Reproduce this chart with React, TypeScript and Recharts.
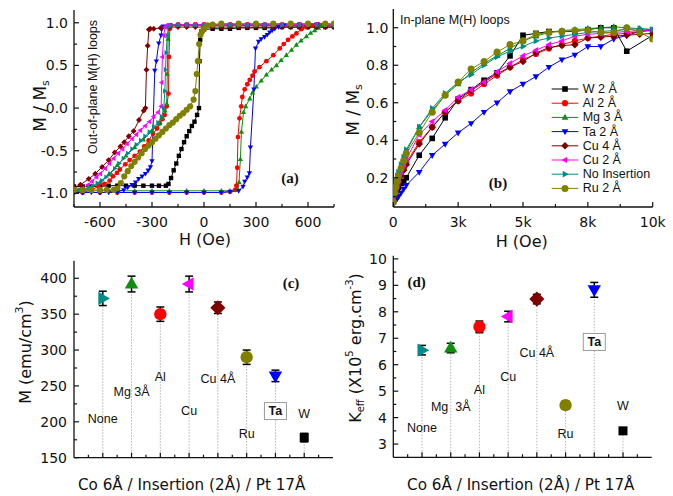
// App.tsx
// Four-panel figure: out-of-plane / in-plane M(H) loops + M and Keff per insertion layer.
import React from "react";
import { ComposedChart, Line, Scatter, XAxis, YAxis, ErrorBar, ReferenceLine } from "recharts";

const SANS = "'Liberation Sans', Arial, sans-serif";
const WIDE = "'DejaVu Sans', sans-serif";
const SERIF = "'Liberation Serif', 'Times New Roman', serif";
const INK = "#111111";

// ---- samples, in legend order ----
const SAMPLE_NAMES = ["W 2 Å", "Al 2 Å", "Mg 3 Å", "Ta 2 Å", "Cu 4 Å", "Cu 2 Å", "No Insertion", "Ru 2 Å"];
const SAMPLE_COLORS = ["#000000", "#ff0000", "#0f8f0f", "#0000ff", "#800000", "#ff00ff", "#008b8b", "#808000"];
const SAMPLE_SHAPES = ["square", "circle", "up", "down", "diamond", "left", "right", "circle"];

// ---- (a) out-of-plane loops: H (Oe) and M/Ms ----
const TOP_H = [750, 700, 650, 600, 550, 500, 450, 400, 350, 300, 250, 200, 150, 100, 50, 0, -50, -100, -150];

const OOP_W_H = [750, 700, 650, 600, 550, 500, 450, 400, 350, 300, 250, 200, 150, 100, 50, 0, -15, -22, -26, -29, -40, -55, -70, -85, -100, -115, -130, -145, -160, -175, -190, -205, -220, -260, -300, -350, -400, -450, -500, -550, -600, -650, -700, -750];
const OOP_W_M = [0.95, 0.95, 0.95, 0.95, 0.95, 0.95, 0.95, 0.94, 0.94, 0.94, 0.94, 0.94, 0.93, 0.93, 0.93, 0.92, 0.9, 0.8, 0.55, 0.0, -0.08, -0.16, -0.21, -0.27, -0.33, -0.4, -0.48, -0.56, -0.65, -0.73, -0.82, -0.89, -0.91, -0.91, -0.91, -0.91, -0.91, -0.91, -0.91, -0.91, -0.92, -0.92, -0.92, -0.92];

const OOP_AL_H = [...TOP_H, -190, -197, -202, -205, -215, -227, -240, -255, -271, -294, -319, -345, -370, -400, -429, -454, -486, -502, -525, -544, -575, -610, -650, -700, -750,
  -700, -600, -500, -400, -300, -200, -100, 0, 100, 150, 180, 187, 192, 196, 205, 215, 221, 235, 250, 264, 280, 292, 320, 360, 400, 437, 460, 485, 510, 533, 562, 590, 620, 660, 700, 750];
const OOP_AL_M = [0.98, 0.98, 0.98, 0.98, 0.98, 0.98, 0.98, 0.98, 0.98, 0.98, 0.98, 0.98, 0.98, 0.98, 0.98, 0.98, 0.98, 0.98, 0.98, 0.97, 0.93, 0.6, 0.17, 0.02, -0.08, -0.13, -0.18, -0.24, -0.3, -0.38, -0.45, -0.51, -0.56, -0.61, -0.66, -0.72, -0.76, -0.8, -0.85, -0.89, -0.92, -0.96, -0.99, -0.99,
  -0.99, -0.99, -0.99, -0.99, -0.99, -0.99, -0.99, -0.99, -0.99, -0.98, -0.96, -0.91, -0.7, -0.34, -0.12, 0.02, 0.13, 0.22, 0.28, 0.33, 0.38, 0.43, 0.48, 0.55, 0.62, 0.7, 0.75, 0.8, 0.84, 0.875, 0.925, 0.95, 0.97, 0.98, 0.98, 0.98];

const OOP_MG_H = [...TOP_H, -200, -207, -212, -215, -225, -240, -260, -300, -350, -400, -450, -500, -550, -600, -650, -700, -750,
  -700, -600, -500, -400, -300, -200, -100, 0, 100, 150, 195, 202, 210, 216, 228, 240, 264, 280, 302, 330, 360, 390, 418, 445, 475, 505, 533, 560, 591, 615, 639, 660, 677, 700, 750];
const OOP_MG_M = [0.98, 0.98, 0.98, 0.98, 0.98, 0.98, 0.98, 0.98, 0.98, 0.98, 0.98, 0.98, 0.98, 0.98, 0.98, 0.98, 0.98, 0.98, 0.98, 0.96, 0.81, 0.4, 0.05, -0.03, -0.12, -0.18, -0.27, -0.37, -0.46, -0.56, -0.67, -0.78, -0.87, -0.93, -0.96, -0.98,
  -0.97, -0.97, -0.97, -0.97, -0.97, -0.97, -0.97, -0.97, -0.97, -0.97, -0.95, -0.87, -0.6, -0.28, -0.05, 0.02, 0.11, 0.18, 0.25, 0.32, 0.39, 0.45, 0.5, 0.56, 0.62, 0.68, 0.74, 0.79, 0.84, 0.88, 0.91, 0.94, 0.97, 0.98, 0.98];

const OOP_TA_H = [...TOP_H, -200, -235, -242, -248, -261, -275, -284, -300, -309, -322, -338, -357, -377, -395, -415, -440, -463, -500, -550, -600, -650, -700, -750,
  -700, -600, -500, -400, -300, -200, -100, 0, 100, 150, 200, 225, 235, 250, 262, 268, 288, 297, 315, 330, 350, 365, 379, 393, 408, 430, 460, 500, 550, 600, 650, 700, 750];
const OOP_TA_M = [0.97, 0.97, 0.97, 0.97, 0.97, 0.97, 0.97, 0.97, 0.97, 0.97, 0.97, 0.97, 0.97, 0.97, 0.97, 0.97, 0.97, 0.97, 0.97, 0.97, 0.96, 0.93, 0.855, 0.76, 0.55, 0.44, -0.62, -0.69, -0.73, -0.77, -0.8, -0.83, -0.87, -0.9, -0.93, -0.96, -0.98, -0.99, -0.99, -0.99, -0.99, -0.99,
  -0.99, -0.99, -0.99, -0.99, -0.99, -0.99, -0.99, -0.99, -0.99, -0.98, -0.97, -0.92, -0.86, -0.81, -0.76, -0.46, 0.22, 0.7, 0.78, 0.81, 0.835, 0.86, 0.89, 0.91, 0.93, 0.95, 0.97, 0.98, 0.98, 0.98, 0.98, 0.98, 0.98];

const OOP_CU4_H = [...TOP_H, -200, -250, -290, -310, -318, -325, -332, -338, -348, -375, -406, -434, -460, -482, -515, -550, -588, -627, -665, -713, -750];
const OOP_CU4_M = [0.95, 0.95, 0.95, 0.95, 0.95, 0.95, 0.95, 0.95, 0.95, 0.95, 0.95, 0.95, 0.95, 0.95, 0.95, 0.95, 0.95, 0.95, 0.95, 0.95, 0.94, 0.93, 0.93, 0.92, 0.73, 0.45, 0.0, -0.03, -0.14, -0.27, -0.33, -0.4, -0.45, -0.52, -0.61, -0.69, -0.77, -0.83, -0.9, -0.93];

const OOP_CU2_H = [...TOP_H, -200, -215, -225, -232, -240, -244, -247, -265, -290, -315, -340, -367, -390, -415, -444, -470, -495, -521, -545, -570, -598, -620, -646, -670, -700, -725, -750];
const OOP_CU2_M = [0.98, 0.98, 0.98, 0.98, 0.98, 0.98, 0.98, 0.98, 0.98, 0.98, 0.98, 0.98, 0.98, 0.98, 0.98, 0.98, 0.98, 0.98, 0.98, 0.97, 0.97, 0.95, 0.85, 0.6, 0.3, 0.02, -0.05, -0.1, -0.16, -0.21, -0.26, -0.31, -0.36, -0.42, -0.48, -0.53, -0.59, -0.65, -0.71, -0.77, -0.81, -0.86, -0.9, -0.94, -0.96, -0.97];

const OOP_NONE_H = [...TOP_H, -190, -205, -212, -218, -222, -226, -232, -245, -265, -290, -315, -340, -365, -390, -415, -440, -465, -490, -515, -540, -565, -590, -615, -640, -665, -690, -720, -750];
const OOP_NONE_M = [0.97, 0.97, 0.97, 0.97, 0.97, 0.97, 0.97, 0.97, 0.97, 0.97, 0.97, 0.97, 0.97, 0.97, 0.97, 0.97, 0.97, 0.97, 0.97, 0.97, 0.95, 0.85, 0.65, 0.45, 0.2, 0.0, -0.1, -0.17, -0.22, -0.28, -0.33, -0.38, -0.43, -0.48, -0.53, -0.59, -0.65, -0.71, -0.77, -0.81, -0.85, -0.88, -0.91, -0.93, -0.95, -0.96, -0.97];

const OOP_RU_H = [750, 700, 600, 500, 400, 300, 200, 100, 50, 20, 0, -10, -20, -28, -35, -42, -50, -60, -80, -100, -120, -140, -160, -180, -200, -220, -240, -260, -280, -300, -320, -340, -360, -380, -400, -420, -440, -460, -480, -500, -520, -560, -600, -650, -700, -750];
const OOP_RU_M = [0.99, 0.99, 0.99, 0.99, 0.99, 0.99, 0.99, 0.99, 0.98, 0.97, 0.93, 0.9, 0.86, 0.75, 0.55, 0.4, 0.2, 0.1, 0.02, -0.02, -0.06, -0.09, -0.13, -0.17, -0.2, -0.24, -0.28, -0.32, -0.36, -0.4, -0.44, -0.48, -0.53, -0.58, -0.63, -0.68, -0.74, -0.8, -0.88, -0.94, -0.96, -0.96, -0.96, -0.96, -0.96, -0.96];

// ---- (b) in-plane loops on a shared H grid ----
const IP_H = [0, 50, 100, 150, 200, 300, 400, 500, 1000, 1500, 2000, 2500, 3000, 3500, 4000, 4500, 5000, 5500, 6000, 6500, 7000, 7500, 8000, 8500, 9000, 9500, 10000];
const IP_W = [0.07, 0.1, 0.12, 0.14, 0.15, 0.17, 0.18, 0.2, 0.32, 0.41, 0.52, 0.62, 0.67, 0.72, 0.76, 0.85, 0.96, 0.97, 0.98, 0.98, 0.98, 0.99, 1.0, 1.0, 0.875, null, 0.96];
const IP_AL = [0.07, 0.11, 0.14, 0.16, 0.18, 0.22, 0.25, 0.28, 0.39, 0.47, 0.55, 0.61, 0.65, 0.7, 0.745, 0.79, 0.83, 0.86, 0.89, 0.91, 0.93, 0.945, 0.955, 0.965, 0.97, 0.98, 0.985];
const IP_MG = [0.09, 0.14, 0.17, 0.2, 0.22, 0.26, 0.3, 0.34, 0.47, 0.56, 0.64, 0.7, 0.76, 0.81, 0.85, 0.89, 0.93, 0.955, 0.975, 0.985, 0.99, 0.995, 1.0, 1.005, 1.0, 0.995, 0.99];
const IP_TA = [0.06, 0.07, 0.08, 0.09, 0.1, 0.12, 0.14, 0.16, 0.23, 0.32, 0.38, 0.44, 0.49, 0.55, 0.6, 0.66, 0.7, 0.74, 0.79, 0.83, 0.855, 0.9, 0.9, 0.94, 0.96, 0.98, 0.99];
const IP_CU4 = [0.07, 0.1, 0.13, 0.15, 0.17, 0.21, 0.24, 0.27, 0.38, 0.47, 0.55, 0.61, 0.665, 0.71, 0.755, 0.79, 0.82, 0.865, 0.895, 0.905, 0.91, 0.945, 0.95, 0.955, 0.96, 0.965, 0.97];
const IP_CU2 = [0.08, 0.12, 0.15, 0.17, 0.19, 0.23, 0.27, 0.3, 0.43, 0.5, 0.56, 0.63, 0.67, 0.71, 0.765, 0.81, 0.85, 0.88, 0.91, 0.93, 0.955, 0.965, 0.97, 0.975, 0.98, 0.985, 0.99];
const IP_NONE = [0.1, 0.15, 0.18, 0.21, 0.23, 0.27, 0.31, 0.35, 0.47, 0.57, 0.65, 0.71, 0.75, 0.8, 0.845, 0.875, 0.9, 0.93, 0.945, 0.955, 0.965, 0.975, 0.98, 0.985, 0.99, 0.995, 0.99];
const IP_RU = [0.07, 0.12, 0.15, 0.18, 0.21, 0.25, 0.29, 0.33, 0.44, 0.55, 0.64, 0.71, 0.78, 0.82, 0.87, 0.91, 0.93, 0.965, 0.975, 0.98, 0.985, 0.985, 0.975, 0.975, 1.0, 0.975, 0.94];
const IP_XTICKS = [0, 2500, 5000, 7500, 10000];
const IP_XTICK_LABELS = ["0", "3k", "5k", "8k", "10k"];

// ---- (c) and (d): one point per insertion layer ----
const CATEGORIES = ["None", "Mg 3Å", "Al", "Cu", "Cu 4Å", "Ru", "Ta", "W"];
const CAT_LABELS_D = ["None", "Mg  3Å", "Al", "Cu", "Cu 4Å", "Ru", "Ta", "W"];
const CAT_COLORS = ["#008b8b", "#0f8f0f", "#ff0000", "#ff00ff", "#800000", "#808000", "#0000ff", "#000000"];
const CAT_SHAPES = ["right", "up", "circle", "left", "diamond", "circle", "down", "square"];
const M_VALUES = [372, 392, 350, 392, 359, 290, 264, 178];
const M_ERRORS = [10, 11, 10, 11, 8, 10, 8, 6];
const M_LABEL_Y = [204, 241, 263, 215, 259, 183, 215, 211];
const K_VALUES = [6.55, 6.63, 7.43, 7.82, 8.48, 4.47, 8.83, 3.5];
const K_ERRORS = [0.18, 0.18, 0.22, 0.2, 0.18, 0.15, 0.28, 0.05];
const K_LABEL_Y = [3.6, 4.42, 5.05, 5.53, 6.46, 3.38, 6.86, 4.45];

const zip = (xs: number[], ys: (number | null)[]) => xs.map((x, i) => ({ x, y: ys[i] }));

const OOP_LOOPS = [
  zip(OOP_W_H, OOP_W_M), zip(OOP_AL_H, OOP_AL_M), zip(OOP_MG_H, OOP_MG_M), zip(OOP_TA_H, OOP_TA_M),
  zip(OOP_CU4_H, OOP_CU4_M), zip(OOP_CU2_H, OOP_CU2_M), zip(OOP_NONE_H, OOP_NONE_M), zip(OOP_RU_H, OOP_RU_M),
];
const IP_LOOPS = [IP_W, IP_AL, IP_MG, IP_TA, IP_CU4, IP_CU2, IP_NONE, IP_RU].map((m) => zip(IP_H, m));

function marker(shape: string, cx: number, cy: number, r: number, color: string, key?: any) {
  if (cx == null || cy == null || isNaN(cx) || isNaN(cy)) return <g key={key} />;
  switch (shape) {
    case "square":
      return <rect key={key} x={cx - r} y={cy - r} width={2 * r} height={2 * r} fill={color} />;
    case "circle":
      return <circle key={key} cx={cx} cy={cy} r={r * 1.1} fill={color} />;
    case "up":
      return <polygon key={key} fill={color} points={`${cx},${cy - r * 1.3} ${cx + r * 1.2},${cy + r * 0.8} ${cx - r * 1.2},${cy + r * 0.8}`} />;
    case "down":
      return <polygon key={key} fill={color} points={`${cx},${cy + r * 1.3} ${cx + r * 1.2},${cy - r * 0.8} ${cx - r * 1.2},${cy - r * 0.8}`} />;
    case "left":
      return <polygon key={key} fill={color} points={`${cx - r * 1.3},${cy} ${cx + r * 0.8},${cy - r * 1.2} ${cx + r * 0.8},${cy + r * 1.2}`} />;
    case "right":
      return <polygon key={key} fill={color} points={`${cx + r * 1.3},${cy} ${cx - r * 0.8},${cy - r * 1.2} ${cx - r * 0.8},${cy + r * 1.2}`} />;
    default:
      return <polygon key={key} fill={color} points={`${cx},${cy - r * 1.35} ${cx + r * 1.35},${cy} ${cx},${cy + r * 1.35} ${cx - r * 1.35},${cy}`} />;
  }
}

// inward Origin-style ticks (major 5px, minor 3px) drawn by a custom tick
function tickRenderer(side: string, majors: number[], fmt?: (v: number) => string, gap = 0) {
  return (p: any) => {
    const v = p.payload.value;
    const major = majors.some((m) => Math.abs(m - v) < 1e-6);
    const len = major ? 5 : 3;
    const x = p.x;
    const y = p.y;
    let l = [x, y, x, y - len];
    if (side === "top") l = [x, y, x, y + len];
    if (side === "left") l = [x, y, x + len, y];
    if (side === "right") l = [x, y, x - len, y];
    const label = fmt && major ? fmt(v) : null;
    return (
      <g>
        <line x1={l[0]} y1={l[1]} x2={l[2]} y2={l[3]} stroke={INK} strokeWidth={1.2} />
        {label !== null && side === "bottom" && (
          <text x={x} y={y + gap} textAnchor="middle" dominantBaseline="hanging" fontSize={14} fontFamily={WIDE} fill={INK}>{label}</text>
        )}
        {label !== null && side === "left" && (
          <text x={x - gap} y={y} textAnchor="end" dominantBaseline="central" fontSize={14} fontFamily={WIDE} fill={INK}>{label}</text>
        )}
      </g>
    );
  };
}

type Frame = {
  xDomain: [number, number]; yDomain: [number, number];
  xTicks: number[]; xMinor: number[]; yTicks: number[]; yMinor: number[];
  xFmt?: (v: number) => string; yFmt?: (v: number) => string;
  xHeight: number; yWidth: number; xGap: number; yGap: number;
};

function frameAxes(f: Frame) {
  const xs = [...f.xTicks, ...f.xMinor].sort((a, b) => a - b);
  const ys = [...f.yTicks, ...f.yMinor].sort((a, b) => a - b);
  const line = { stroke: INK, strokeWidth: 1.3 };
  const common = { type: "number" as const, allowDataOverflow: true, interval: 0, tickSize: 0, tickMargin: 0, tickLine: false, axisLine: line };
  return [
    <XAxis key="xb" xAxisId={0} dataKey="x" domain={f.xDomain} ticks={xs} height={f.xHeight} {...common} tick={tickRenderer("bottom", f.xTicks, f.xFmt, f.xGap)} />,
    <XAxis key="xt" xAxisId="top" orientation="top" domain={f.xDomain} ticks={xs} height={0} {...common} tick={tickRenderer("top", f.xTicks)} />,
    <YAxis key="yl" yAxisId={0} dataKey="y" domain={f.yDomain} ticks={ys} width={f.yWidth} {...common} tick={tickRenderer("left", f.yTicks, f.yFmt, f.yGap)} />,
    <YAxis key="yr" yAxisId="right" orientation="right" domain={f.yDomain} ticks={ys} width={0} {...common} tick={tickRenderer("right", f.yTicks)} />,
  ];
}

function PanelA() {
  return (
    <ComposedChart width={340} height={248} margin={{ top: 10, right: 6, bottom: 0, left: 0 }}>
      {frameAxes({
        xDomain: [-750, 750], yDomain: [-1.16, 1.15],
        xTicks: [-600, -300, 0, 300, 600], xMinor: [-750, -450, -150, 150, 450, 750],
        yTicks: [-1, -0.5, 0, 0.5, 1], yMinor: [-0.75, -0.25, 0.25, 0.75],
        xFmt: (v) => String(v), yFmt: (v) => v.toFixed(1),
        xHeight: 41, yWidth: 74, xGap: 10, yGap: 6,
      })}
      {OOP_LOOPS.map((d, i) => (
        <Line key={i} data={d} dataKey="y" type="linear" stroke={SAMPLE_COLORS[i]} strokeWidth={1}
          activeDot={false} isAnimationActive={false}
          dot={(p: any) => marker(SAMPLE_SHAPES[i], p.cx, p.cy, i === 7 ? 2.8 : 2.2, SAMPLE_COLORS[i], p.index)} />
      ))}
    </ComposedChart>
  );
}

function PanelB() {
  return (
    <ComposedChart width={333} height={248} margin={{ top: 9, right: 20.3, bottom: 0, left: 0 }}>
      {frameAxes({
        xDomain: [0, 10000], yDomain: [0.044, 1.1],
        xTicks: IP_XTICKS, xMinor: [1250, 3750, 6250, 8750],
        yTicks: [0.2, 0.4, 0.6, 0.8, 1.0], yMinor: [0.1, 0.3, 0.5, 0.7, 0.9],
        xFmt: (v) => IP_XTICK_LABELS[IP_XTICKS.indexOf(v)], yFmt: (v) => v.toFixed(1),
        xHeight: 41, yWidth: 53.3, xGap: 10, yGap: 5,
      })}
      {IP_LOOPS.map((d, i) => (
        <Line key={i} data={d} dataKey="y" type="linear" stroke={SAMPLE_COLORS[i]} strokeWidth={1} connectNulls
          activeDot={false} isAnimationActive={false}
          dot={(p: any) => marker(SAMPLE_SHAPES[i], p.cx, p.cy, i === 7 ? 3.2 : 2.8, SAMPLE_COLORS[i], p.index)} />
      ))}
    </ComposedChart>
  );
}

function CategoryPanel(props: {
  width: number; margin: any; yWidth: number; xHeight: number; yGap: number;
  yDomain: [number, number]; yTicks: number[]; yMinor: number[];
  values: number[]; errors: number[]; labelY: number[]; labels: string[];
}) {
  const pts = props.values.map((v, i) => ({ x: i + 1, y: v, err: props.errors[i], i }));
  const lbl = props.labelY.map((v, i) => ({ x: i + 1, y: v, i }));
  return (
    <ComposedChart width={props.width} height={248} margin={props.margin}>
      {frameAxes({
        xDomain: [0, 9], yDomain: props.yDomain,
        xTicks: [1, 2, 3, 4, 5, 6, 7, 8], xMinor: [0.5, 1.5, 2.5, 3.5, 4.5, 5.5, 6.5, 7.5, 8.5],
        yTicks: props.yTicks, yMinor: props.yMinor, yFmt: (v) => String(v),
        xHeight: props.xHeight, yWidth: props.yWidth, xGap: 10, yGap: props.yGap,
      })}
      {props.values.map((v, i) => (
        <ReferenceLine key={"d" + i} segment={[{ x: i + 1, y: props.yDomain[0] }, { x: i + 1, y: v }]}
          stroke="#b5b5b5" strokeWidth={1} strokeDasharray="1.5 1.5" />
      ))}
      <Scatter data={lbl} isAnimationActive={false}
        shape={(p: any) => {
          const t = props.labels[p.payload.i];
          if (t === "Ta") {
            return (
              <g>
                <rect x={p.cx - 11} y={p.cy - 8.5} width={22} height={17} fill="#ffffff" stroke="#9a9a9a" strokeWidth={1} />
                <text x={p.cx} y={p.cy} textAnchor="middle" dominantBaseline="central" fontSize={12.5} fontWeight="bold" fontFamily={SANS} fill={INK}>{t}</text>
              </g>
            );
          }
          return <text x={p.cx} y={p.cy} textAnchor="middle" dominantBaseline="central" fontSize={12.5} fontFamily={SANS} fill={INK} style={{ whiteSpace: "pre" }}>{t}</text>;
        }} />
      <Scatter data={pts} isAnimationActive={false}
        shape={(p: any) => marker(CAT_SHAPES[p.payload.i], p.cx, p.cy, CAT_SHAPES[p.payload.i] === "square" ? 4.5 : 5.6, CAT_COLORS[p.payload.i])} />
      {/* same points again, only to draw the error bars on top of the markers */}
      <Scatter data={pts} isAnimationActive={false} shape={() => <g />}>
        <ErrorBar dataKey="err" direction="y" width={4} stroke="#000000" strokeWidth={1.5} />
      </Scatter>
    </ComposedChart>
  );
}

function Overlay() {
  const t = { fontFamily: WIDE, fill: INK, textAnchor: "middle" as const, dominantBaseline: "central" as const };
  return (
    <svg width={673} height={496} style={{ position: "absolute", left: 0, top: 0, pointerEvents: "none" }}>
      {/* (a) */}
      <text {...t} fontSize={17} transform="translate(40,106) rotate(-90)">M / M<tspan fontSize={11} dy={5}>s</tspan></text>
      <text {...t} fontSize={16} x={205} y={239}>H (Oe)</text>
      <text {...t} fontFamily={SANS} fontSize={12.5} transform="translate(92.5,87) rotate(-90)">Out-of-plane M(H) loops</text>
      <text {...t} fontFamily={SERIF} fontWeight="bold" fontSize={15} x={290} y={178}>(a)</text>
      {/* (b) */}
      <text {...t} fontSize={17} transform="translate(353,110) rotate(-90)">M / M<tspan fontSize={11} dy={5}>s</tspan></text>
      <text {...t} fontSize={16} x={521.7} y={241}>H (Oe)</text>
      <text {...t} fontFamily={SANS} fontSize={12.5} textAnchor="start" x={400} y={20}>In-plane M(H) loops</text>
      <text {...t} fontFamily={SERIF} fontWeight="bold" fontSize={15} x={498} y={182.5}>(b)</text>
      {SAMPLE_NAMES.map((n, i) => {
        const y = 89 + i * 14.2;
        return (
          <g key={n}>
            <line x1={551.7} x2={578.3} y1={y} y2={y} stroke={SAMPLE_COLORS[i]} strokeWidth={1} />
            {marker(SAMPLE_SHAPES[i], 565, y, i === 7 ? 3.2 : 2.8, SAMPLE_COLORS[i])}
            <text x={582.7} y={y} fontFamily={SANS} fontSize={12.5} fill={INK} dominantBaseline="central">{n}</text>
          </g>
        );
      })}
      {/* (c) */}
      <text {...t} fontSize={16} transform="translate(25,352) rotate(-90)">M (emu/cm<tspan fontSize={11} dy={-6}>3</tspan><tspan dy={6}>)</tspan></text>
      <text {...t} fontSize={15.2} x={191.7} y={485}>Co 6Å / Insertion (2Å) / Pt 17Å</text>
      <text {...t} fontFamily={SERIF} fontWeight="bold" fontSize={15} x={291} y={282.5}>(c)</text>
      {/* (d) */}
      <text {...t} fontSize={16} transform="translate(355,348) rotate(-90)">
        K<tspan fontSize={10} dy={5}>eff</tspan><tspan dy={-5}> (X10</tspan><tspan fontSize={10} dy={-6}>5</tspan>
        <tspan dy={6}> erg.cm</tspan><tspan fontSize={10} dy={-6}>-3</tspan><tspan dy={6}>)</tspan>
      </text>
      <text {...t} fontSize={15.2} x={520.8} y={485}>Co 6Å / Insertion (2Å) / Pt 17Å</text>
      <text {...t} fontFamily={SERIF} fontWeight="bold" fontSize={15} x={416.7} y={282}>(d)</text>
    </svg>
  );
}

export default function App() {
  return (
    <div style={{ position: "absolute", left: 0, top: 0, width: 673, height: 496, background: "#ffffff", overflow: "hidden" }}>
      <div style={{ position: "absolute", left: 0, top: 0 }}><PanelA /></div>
      <div style={{ position: "absolute", left: 340, top: 0 }}><PanelB /></div>
      <div style={{ position: "absolute", left: 0, top: 248 }}>
        <CategoryPanel width={340} margin={{ top: 12.7, right: 7, bottom: 0, left: 0 }} yWidth={74} xHeight={38.3} yGap={7}
          yDomain={[150, 424.5]} yTicks={[150, 200, 250, 300, 350, 400]} yMinor={[175, 225, 275, 325, 375]}
          values={M_VALUES} errors={M_ERRORS} labelY={M_LABEL_Y} labels={CATEGORIES} />
      </div>
      <div style={{ position: "absolute", left: 340, top: 248 }}>
        <CategoryPanel width={333} margin={{ top: 7.7, right: 21.3, bottom: 0, left: 0 }} yWidth={53.3} xHeight={38.7} yGap={6.5}
          yDomain={[2.5, 10.12]} yTicks={[3, 4, 5, 6, 7, 8, 9, 10]} yMinor={[3.5, 4.5, 5.5, 6.5, 7.5, 8.5, 9.5]}
          values={K_VALUES} errors={K_ERRORS} labelY={K_LABEL_Y} labels={CAT_LABELS_D} />
      </div>
      <Overlay />
    </div>
  );
}
